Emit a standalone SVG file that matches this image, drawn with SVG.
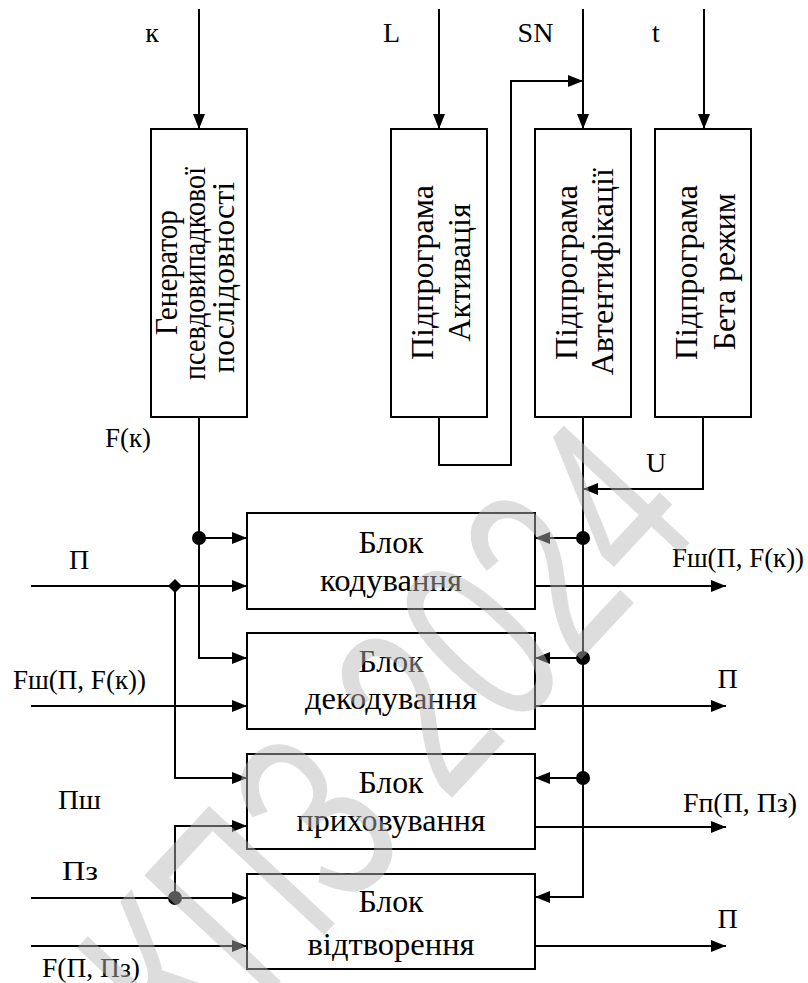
<svg xmlns="http://www.w3.org/2000/svg" width="808" height="983" viewBox="0 0 808 983">
<style>
.box{fill:#fff;stroke:#000;stroke-width:2}
.ln{fill:none;stroke:#000;stroke-width:2}
.arr{marker-end:url(#ah)}
.bt{font-size:32px;text-anchor:middle}
.lb{font-size:28px}
.m{text-anchor:middle}
.dot{fill:#000}
.wm{font-size:250px;fill:#b6b6b6;fill-opacity:0.47}
</style>
<defs>
<marker id="ah" viewBox="0 0 15 12" refX="15" refY="6" markerWidth="15" markerHeight="12" markerUnits="userSpaceOnUse" orient="auto">
<path d="M0,0 L15,6 L0,12 z" fill="#000"/>
</marker>
</defs>
<rect width="808" height="983" fill="#fff"/>
<g font-family="Liberation Serif, Times New Roman, DejaVu Serif, serif" fill="#000">
<g id="gen">
<rect class="box" x="151" y="129" width="96" height="288"/>
<text class="bt" transform="translate(177,272.5) rotate(-90)" textLength="125" lengthAdjust="spacingAndGlyphs">Генератор</text>
<text class="bt" transform="translate(205,273.5) rotate(-90)" textLength="213" lengthAdjust="spacingAndGlyphs">псевдовипадкової</text>
<text class="bt" transform="translate(234,277.5) rotate(-90)" textLength="191" lengthAdjust="spacingAndGlyphs">послідовності</text>
</g>
<g id="act">
<rect class="box" x="391" y="129" width="96" height="288"/>
<text class="bt" transform="translate(433,272.5) rotate(-90)" textLength="175" lengthAdjust="spacingAndGlyphs">Підпрограма</text>
<text class="bt" transform="translate(470,272.5) rotate(-90)" textLength="138" lengthAdjust="spacingAndGlyphs">Активація</text>
</g>
<g id="auth">
<rect class="box" x="535" y="129" width="96" height="288"/>
<text class="bt" transform="translate(577,272.5) rotate(-90)" textLength="175" lengthAdjust="spacingAndGlyphs">Підпрограма</text>
<text class="bt" transform="translate(613,271.7) rotate(-90)" textLength="207" lengthAdjust="spacingAndGlyphs">Автентифікації</text>
</g>
<g id="beta">
<rect class="box" x="655" y="129" width="96" height="288"/>
<text class="bt" transform="translate(697,272.5) rotate(-90)" textLength="175" lengthAdjust="spacingAndGlyphs">Підпрограма</text>
<text class="bt" transform="translate(735,271.7) rotate(-90)" textLength="157" lengthAdjust="spacingAndGlyphs">Бета режим</text>
</g>

<g id="coding">
<rect class="box" x="247" y="513" width="288" height="96"/>
<text class="bt" x="391" y="553" textLength="65" lengthAdjust="spacingAndGlyphs">Блок</text>
<text class="bt" x="391" y="591" textLength="142" lengthAdjust="spacingAndGlyphs">кодування</text>
</g>
<g id="decoding">
<rect class="box" x="247" y="633" width="288" height="96"/>
<text class="bt" x="391" y="672" textLength="65" lengthAdjust="spacingAndGlyphs">Блок</text>
<text class="bt" x="391" y="709" textLength="172" lengthAdjust="spacingAndGlyphs">декодування</text>
</g>
<g id="hiding">
<rect class="box" x="247" y="754" width="288" height="95"/>
<text class="bt" x="391" y="793" textLength="65" lengthAdjust="spacingAndGlyphs">Блок</text>
<text class="bt" x="391" y="831" textLength="189" lengthAdjust="spacingAndGlyphs">приховування</text>
</g>
<g id="restoring">
<rect class="box" x="247" y="874" width="288" height="95"/>
<text class="bt" x="391" y="912" textLength="65" lengthAdjust="spacingAndGlyphs">Блок</text>
<text class="bt" x="391" y="955" textLength="167" lengthAdjust="spacingAndGlyphs">відтворення</text>
</g>

<g id="connectors">
<path class="ln arr" d="M199,9 V129"/>
<path class="ln arr" d="M439,9 V129"/>
<path class="ln arr" d="M583,9 V129"/>
<path class="ln arr" d="M704,9 V129"/>
<path class="ln arr" d="M439,417 V465 H511 V81 H583"/>
<path class="ln arr" d="M199,417 V658 H247"/>
<path class="ln arr" d="M199,538 H247"/>
<path class="ln arr" d="M583,417 V897 H535"/>
<path class="ln arr" d="M583,538 H535"/>
<path class="ln arr" d="M583,658 H535"/>
<path class="ln arr" d="M583,778 H535"/>
<path class="ln arr" d="M703,417 V489 H583"/>
<path class="ln arr" d="M31,586 H247"/>
<path class="ln arr" d="M175,586 V778 H247"/>
<path class="ln arr" d="M31,706 H247"/>
<path class="ln arr" d="M31,898 H247"/>
<path class="ln arr" d="M175,898 V826 H247"/>
<path class="ln arr" d="M31,946 H247"/>
<path class="ln arr" d="M535,586 H726"/>
<path class="ln arr" d="M535,706 H726"/>
<path class="ln arr" d="M535,827 H726"/>
<path class="ln arr" d="M535,946 H726"/>
<circle class="dot" cx="199" cy="538" r="7"/>
<circle class="dot" cx="583" cy="538" r="7"/>
<circle class="dot" cx="583" cy="658" r="7"/>
<circle class="dot" cx="583" cy="778" r="7"/>
<circle class="dot" cx="175" cy="898" r="7"/>
<path class="dot" d="M175,579 L182,586 L175,593 L168,586 z"/>
</g>

<g id="labels">
<text class="lb m" x="152" y="42">к</text>
<text class="lb m" x="391.5" y="42">L</text>
<text class="lb m" x="535.5" y="42">SN</text>
<text class="lb m" x="656" y="42">t</text>
<text class="lb" x="105" y="447" textLength="46" lengthAdjust="spacingAndGlyphs">F(к)</text>
<text class="lb m" x="656" y="472">U</text>
<text class="lb m" x="79" y="569">П</text>
<text class="lb" x="13" y="689" textLength="133" lengthAdjust="spacingAndGlyphs">Fш(П, F(к))</text>
<text class="lb" x="672" y="567" textLength="132" lengthAdjust="spacingAndGlyphs">Fш(П, F(к))</text>
<text class="lb m" x="727.5" y="688">П</text>
<text class="lb" x="58" y="809" textLength="43" lengthAdjust="spacingAndGlyphs">Пш</text>
<text class="lb" x="62" y="880" textLength="36" lengthAdjust="spacingAndGlyphs">Пз</text>
<text class="lb" x="683" y="812" textLength="114" lengthAdjust="spacingAndGlyphs">Fп(П, Пз)</text>
<text class="lb m" x="727.5" y="928">П</text>
<text class="lb" x="42" y="977" textLength="98" lengthAdjust="spacingAndGlyphs">F(П, Пз)</text>
</g>
</g>
<g id="watermark" font-family="Liberation Sans, Arial, sans-serif">
<text class="wm" text-anchor="middle" dominant-baseline="central" transform="translate(385,742) rotate(-47) scale(0.68,1)">КПЗ 2024</text>
</g>
</svg>
